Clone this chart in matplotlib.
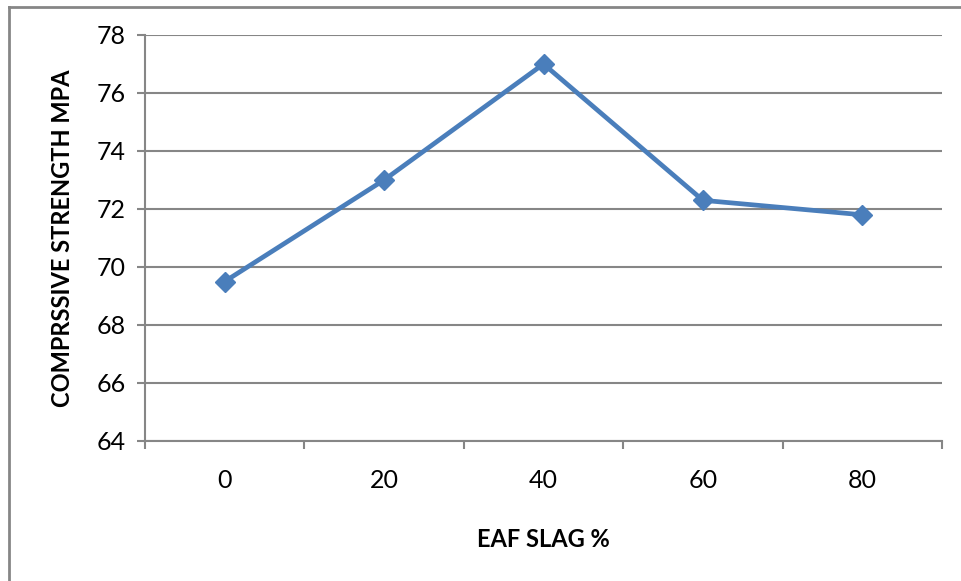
import matplotlib.pyplot as plt
from matplotlib.lines import Line2D

slag = ['0', '20', '40', '60', '80']
strength = [69.5, 73.0, 77.0, 72.3, 71.8]
yticks = [64, 66, 68, 70, 72, 74, 76, 78]

plt.rcParams['font.family'] = ['Lato', 'DejaVu Sans']
grey = '#868686'

fig = plt.figure(figsize=(9.62, 5.81), dpi=100)
ax = fig.add_axes([145 / 962, 1 - 441 / 581, 797 / 962, 406 / 581])

x = list(range(len(slag)))
ax.plot(x, strength, color='#4A7EBB', lw=3.4, marker='D', ms=10,
        markerfacecolor='#4A7EBB', markeredgecolor='#4A7EBB', zorder=3)

ax.set_xlim(-0.5, len(slag) - 0.5)
ax.set_ylim(64, 78)
ax.set_yticks(yticks)
ax.set_xticks(x)
ax.set_xticklabels(slag)
ax.set_xticks([i - 0.5 for i in range(len(slag) + 1)], minor=True)
ax.tick_params(axis='x', which='major', length=0, pad=20, labelsize=18)
ax.tick_params(axis='x', which='minor', length=6, width=1.5, color=grey, direction='out')
ax.tick_params(axis='y', length=6, width=1.5, color=grey, pad=8, labelsize=18)

ax.grid(axis='y', color=grey, lw=1.5)
for s in ['top', 'right']:
    ax.spines[s].set_visible(False)
for s in ['left', 'bottom']:
    ax.spines[s].set_color(grey)
    ax.spines[s].set_linewidth(1.5)

ax.set_xlabel('EAF SLAG %', fontsize=17, fontweight='bold', labelpad=26)
ax.set_ylabel('COMPRSSIVE STRENGTH MPA', fontsize=17, fontweight='bold', labelpad=16)

# outer chart frame, only left and top edges are visible in the crop
fig.add_artist(Line2D([9 / 962, 9 / 962], [0, 1 - 7 / 581], color=grey, lw=2))
fig.add_artist(Line2D([9 / 962, 1], [1 - 7 / 581, 1 - 7 / 581], color=grey, lw=2))

fig.savefig('out.png', dpi=100)
